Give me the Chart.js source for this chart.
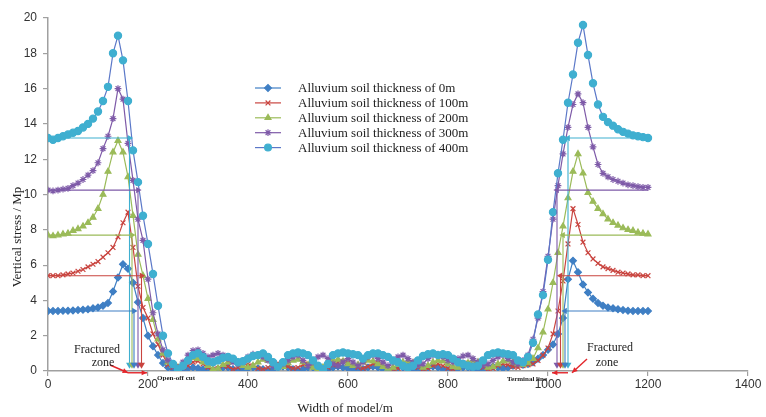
<!DOCTYPE html>
<html lang="en">
<head>
<meta charset="UTF-8">
<title>Vertical stress along the model width</title>
<style>
  html,body{margin:0;padding:0;background:#fff;}
  #wrap{width:766px;height:417px;}
</style>
</head>
<body>
<div id="wrap"><canvas id="stressChart" width="766" height="417"></canvas></div>
<script src="https://cdn.jsdelivr.net/npm/chart.js@4.4.0/dist/chart.umd.min.js"></script>
<script>
// x positions along the model (m)
const widthM = [
  0,10,20,30,40,50,60,70,80,90,100,110,120,130,140,150,160,170,180,190,
  200,210,220,230,240,250,260,270,280,290,300,310,320,330,340,350,360,370,380,390,
  400,410,420,430,440,450,460,470,480,490,500,510,520,530,540,550,560,570,580,590,
  600,610,620,630,640,650,660,670,680,690,700,710,720,730,740,750,760,770,780,790,
  800,810,820,830,840,850,860,870,880,890,900,910,920,930,940,950,960,970,980,990,
  1000,1010,1020,1030,1040,1050,1060,1070,1080,1090,1100,1110,1120,1130,1140,1150,1160,1170,1180,1190,
  1200
];

// vertical stress (MPa) for each alluvium thickness
const stress0m = [
  3.40,3.40,3.40,3.41,3.42,3.43,3.45,3.47,3.50,3.55,
  3.60,3.70,3.85,4.50,5.30,6.05,5.80,5.00,3.90,3.00,
  2.00,1.40,0.90,0.45,0.20,0.10,0.05,0.10,0.15,0.20,
  0.15,0.10,0.05,0.05,0.10,0.20,0.20,0.10,0.05,0.10,
  0.15,0.20,0.15,0.10,0.05,0.10,0.20,0.25,0.20,0.10,
  0.05,0.10,0.20,0.20,0.10,0.05,0.10,0.20,0.25,0.20,
  0.15,0.10,0.05,0.10,0.20,0.25,0.20,0.10,0.05,0.10,
  0.20,0.20,0.15,0.10,0.05,0.10,0.20,0.25,0.20,0.10,
  0.05,0.10,0.15,0.20,0.20,0.10,0.05,0.10,0.20,0.25,
  0.20,0.15,0.20,0.30,0.35,0.35,0.40,0.50,0.70,0.90,
  1.20,1.50,2.10,3.00,5.20,6.25,5.60,4.90,4.45,4.10,
  3.85,3.70,3.60,3.55,3.50,3.45,3.42,3.40,3.40,3.40,
  3.40
];
const stress100m = [
  5.40,5.40,5.40,5.45,5.50,5.55,5.65,5.75,5.90,6.05,
  6.20,6.45,6.70,7.00,7.60,8.40,9.00,7.00,4.80,3.60,
  3.00,2.10,1.50,0.90,0.35,0.20,0.15,0.20,0.30,0.50,
  0.55,0.40,0.20,0.10,0.15,0.30,0.25,0.10,0.20,0.35,
  0.40,0.30,0.15,0.10,0.20,0.35,0.45,0.40,0.25,0.15,
  0.20,0.35,0.40,0.30,0.15,0.10,0.20,0.35,0.50,0.55,
  0.45,0.30,0.20,0.15,0.25,0.40,0.45,0.35,0.20,0.10,
  0.15,0.30,0.40,0.35,0.20,0.10,0.15,0.30,0.40,0.30,
  0.15,0.10,0.20,0.35,0.45,0.40,0.30,0.20,0.10,0.15,
  0.30,0.40,0.35,0.25,0.20,0.30,0.35,0.40,0.60,0.90,
  1.30,2.10,3.40,5.10,7.20,9.20,8.30,7.30,6.70,6.35,
  6.10,5.90,5.80,5.70,5.60,5.55,5.50,5.45,5.45,5.40,
  5.40
];
const stress200m = [
  7.70,7.65,7.70,7.75,7.80,7.95,8.05,8.20,8.40,8.70,
  9.20,10.00,11.30,12.40,13.05,12.40,11.00,8.80,6.60,5.40,
  4.10,2.90,1.80,1.00,0.50,0.30,0.20,0.35,0.60,0.75,
  0.70,0.50,0.30,0.10,0.15,0.35,0.50,0.60,0.50,0.30,
  0.20,0.30,0.50,0.65,0.60,0.40,0.20,0.25,0.45,0.60,
  0.65,0.50,0.35,0.20,0.10,0.20,0.45,0.60,0.65,0.55,
  0.40,0.30,0.35,0.50,0.60,0.55,0.40,0.25,0.15,0.20,
  0.35,0.50,0.55,0.45,0.30,0.20,0.30,0.50,0.60,0.55,
  0.40,0.25,0.20,0.30,0.45,0.60,0.50,0.35,0.20,0.25,
  0.40,0.55,0.60,0.50,0.40,0.35,0.45,0.70,1.30,2.20,
  3.50,5.00,6.70,8.20,9.80,11.30,12.30,11.20,10.10,9.60,
  9.20,8.90,8.60,8.40,8.25,8.10,8.00,7.95,7.85,7.80,
  7.75
];
const stress300m = [
  10.25,10.20,10.25,10.30,10.35,10.50,10.65,10.85,11.10,11.35,
  11.80,12.60,13.30,14.30,16.00,15.40,12.90,10.80,8.60,7.40,
  5.20,3.30,2.10,1.20,0.60,0.30,0.20,0.50,0.90,1.15,
  1.20,1.00,0.80,0.90,1.00,0.90,0.70,0.50,0.40,0.60,
  0.80,0.95,0.90,0.80,0.60,0.30,0.20,0.40,0.60,0.80,
  0.90,0.60,0.30,0.50,0.80,0.90,0.70,0.40,0.30,0.50,
  0.70,0.50,0.30,0.50,0.80,0.90,0.70,0.50,0.30,0.50,
  0.80,0.90,0.70,0.50,0.30,0.40,0.70,0.90,0.95,0.80,
  0.60,0.50,0.70,0.85,0.90,0.70,0.50,0.30,0.40,0.60,
  0.80,0.90,0.70,0.50,0.40,0.60,0.90,1.80,3.00,4.50,
  6.50,8.60,10.50,12.30,13.80,15.10,15.70,15.20,13.80,12.70,
  11.70,11.20,11.00,10.85,10.75,10.65,10.55,10.50,10.45,10.40,
  10.40
];
const stress400m = [
  13.20,13.10,13.20,13.30,13.40,13.50,13.60,13.80,14.00,14.30,
  14.70,15.30,16.10,18.00,19.00,17.60,15.30,12.50,10.70,8.80,
  7.20,5.50,3.70,2.00,1.00,0.40,0.10,0.30,0.60,0.90,
  1.00,0.80,0.55,0.50,0.60,0.75,0.80,0.70,0.50,0.55,
  0.70,0.85,0.90,1.00,0.80,0.50,0.25,0.50,0.90,1.00,
  1.05,1.00,0.90,0.60,0.30,0.10,0.40,0.90,1.00,1.05,
  1.00,0.95,0.90,0.70,0.90,1.00,1.00,0.90,0.80,0.60,
  0.50,0.30,0.20,0.30,0.60,0.85,0.95,1.00,0.90,0.95,
  0.90,0.70,0.50,0.40,0.30,0.25,0.30,0.60,0.90,1.00,
  1.05,1.00,0.95,0.90,0.60,0.50,0.80,1.60,3.20,4.30,
  6.30,9.00,11.20,13.10,15.20,16.80,18.60,19.60,17.90,16.30,
  15.10,14.40,14.10,13.90,13.70,13.55,13.45,13.35,13.30,13.25,
  13.20
];

const seriesNames = [
  'Alluvium soil thickness of 0m',
  'Alluvium soil thickness of 100m',
  'Alluvium soil thickness of 200m',
  'Alluvium soil thickness of 300m',
  'Alluvium soil thickness of 400m'
];

// fractured zone guide arrows: original stress level, and where the arrows drop
const fractureLevel = [3.4, 5.4, 7.7, 10.25, 13.2];
const leftArrowX = [172, 187, 168, 180, 163];
const rightArrowX = [1034, 1025, 1030, 1018, 1040];
const arrowFoot = 0.35;

// text notes and red pointers, in axis units
const notes = [
  {text:'Fractured', x:98, y:1.22, size:12},
  {text:'zone', x:110, y:0.48, size:12},
  {text:'Open-off cut', x:256, y:-0.4, size:7},
  {text:'Terminal line', x:958, y:-0.45, size:7},
  {text:'Fractured', x:1124, y:1.3, size:12},
  {text:'zone', x:1118, y:0.45, size:12}
];
const pointers = [
  [124, 0.34, 160, -0.1],
  [160, -0.1, 198, -0.1],
  [1040, -0.1, 1008, -0.1],
  [1078, 0.68, 1048, -0.1]
];

const lineColors = ['#3F7FC4','#C9443F','#9BBB59','#7E5AA8','#5B78C8'];
const markColors = ['#3F7FC4','#C9443F','#9BBB59','#7E5AA8','#3FAFD0'];
const markStyles = ['rectRot','crossRot','triangle','star','circle'];
const allStress = [stress0m, stress100m, stress200m, stress300m, stress400m];

const datasets = allStress.map((vals, i) => ({
  label: seriesNames[i],
  data: widthM.map((w, k) => ({x: w, y: vals[k]})),
  borderColor: lineColors[i],
  borderWidth: 1.2,
  pointStyle: markStyles[i],
  pointRadius: i === 4 ? 3.6 : 3.4,
  pointBackgroundColor: markColors[i],
  pointBorderColor: markColors[i],
  pointBorderWidth: 1.2,
  tension: 0,
  order: 10 - i
}));

const arrowColors = ['#3F7FC4','#C9443F','#9BBB59','#7E5AA8','#3FAFD0'];
fractureLevel.forEach((lvl, i) => {
  [[0, leftArrowX[i], 90], [1200, rightArrowX[i], -90]].forEach(([from, at, rot]) => {
    datasets.push({
      label: '',
      data: [{x: from, y: lvl}, {x: at, y: lvl}, {x: at, y: arrowFoot}],
      borderColor: arrowColors[i],
      borderWidth: 1.1,
      pointStyle: 'triangle',
      pointRadius: [0, 3.6, 4],
      pointRotation: [0, rot, 180],
      pointBackgroundColor: arrowColors[i],
      pointBorderColor: arrowColors[i],
      pointBorderWidth: 0,
      tension: 0,
      order: 0
    });
  });
});

const serif = '"Liberation Serif", "Times New Roman", serif';

const extrasPlugin = {
  id: 'extras',
  afterDraw(chart) {
    const {ctx, chartArea: area, scales: {x, y}} = chart;
    ctx.save();

    // legend inside the plot
    const lx = area.left + 207, ly = area.top + 70, step = 14.9;
    ctx.font = '13px ' + serif;
    ctx.textBaseline = 'middle';
    ctx.textAlign = 'left';
    seriesNames.forEach((name, i) => {
      const yy = ly + i * step;
      ctx.strokeStyle = lineColors[i];
      ctx.lineWidth = 1.2;
      ctx.beginPath(); ctx.moveTo(lx, yy); ctx.lineTo(lx + 26, yy); ctx.stroke();
      ctx.fillStyle = markColors[i];
      ctx.strokeStyle = markColors[i];
      Chart.helpers.drawPoint(ctx, {pointStyle: markStyles[i], radius: 3.4, rotation: 0, borderWidth: 1.2}, lx + 13, yy);
      ctx.fillStyle = '#222';
      ctx.fillText(name, lx + 43, yy + 0.5);
    });

    // red pointers
    ctx.strokeStyle = '#E3262B';
    ctx.fillStyle = '#E3262B';
    ctx.lineWidth = 1.4;
    pointers.forEach(([x1, y1, x2, y2]) => {
      const p1x = x.getPixelForValue(x1), p1y = y.getPixelForValue(y1);
      const p2x = x.getPixelForValue(x2), p2y = y.getPixelForValue(y2);
      const a = Math.atan2(p2y - p1y, p2x - p1x);
      ctx.beginPath(); ctx.moveTo(p1x, p1y); ctx.lineTo(p2x, p2y); ctx.stroke();
      ctx.beginPath();
      ctx.moveTo(p2x, p2y);
      ctx.lineTo(p2x - 6 * Math.cos(a - 0.45), p2y - 6 * Math.sin(a - 0.45));
      ctx.lineTo(p2x - 6 * Math.cos(a + 0.45), p2y - 6 * Math.sin(a + 0.45));
      ctx.closePath(); ctx.fill();
    });

    // notes
    ctx.fillStyle = '#222';
    ctx.textAlign = 'center';
    notes.forEach(n => {
      ctx.font = (n.size < 10 ? 'bold ' : '') + n.size + 'px ' + serif;
      ctx.fillText(n.text, x.getPixelForValue(n.x), y.getPixelForValue(n.y));
    });

    // axis titles
    ctx.font = '13px ' + serif;
    ctx.fillText('Width of model/m', area.left + 297, area.bottom + 38);
    ctx.translate(area.left - 30, area.top + 219);
    ctx.rotate(-Math.PI / 2);
    ctx.fillText('Vertical stress / Mp', 0, 0);
    ctx.restore();
  }
};

const tickFont = {family: '"Liberation Sans", Arial, sans-serif', size: 12};
const axisGrid = {drawOnChartArea: false, drawTicks: true, tickLength: 5, color: '#A0A0A0', lineWidth: 1.2};
const axisBorder = {color: '#A0A0A0', width: 1.5};

new Chart(document.getElementById('stressChart'), {
  type: 'line',
  data: {datasets},
  options: {
    responsive: false,
    animation: false,
    layout: {padding: {top: 18, right: 18, left: 0, bottom: 0}},
    plugins: {legend: {display: false}, tooltip: {enabled: false}},
    scales: {
      x: {
        type: 'linear', min: 0, max: 1400,
        ticks: {stepSize: 200, color: '#333', font: tickFont, padding: 1, maxRotation: 0,
                callback: v => String(v)},
        grid: axisGrid, border: axisBorder,
        afterFit(s) { s.height = 46; }
      },
      y: {
        min: 0, max: 20,
        ticks: {stepSize: 2, color: '#333', font: tickFont, padding: 6},
        grid: axisGrid, border: axisBorder,
        afterFit(s) { s.width = 48; }
      }
    }
  },
  plugins: [extrasPlugin]
});
</script>
</body>
</html>
